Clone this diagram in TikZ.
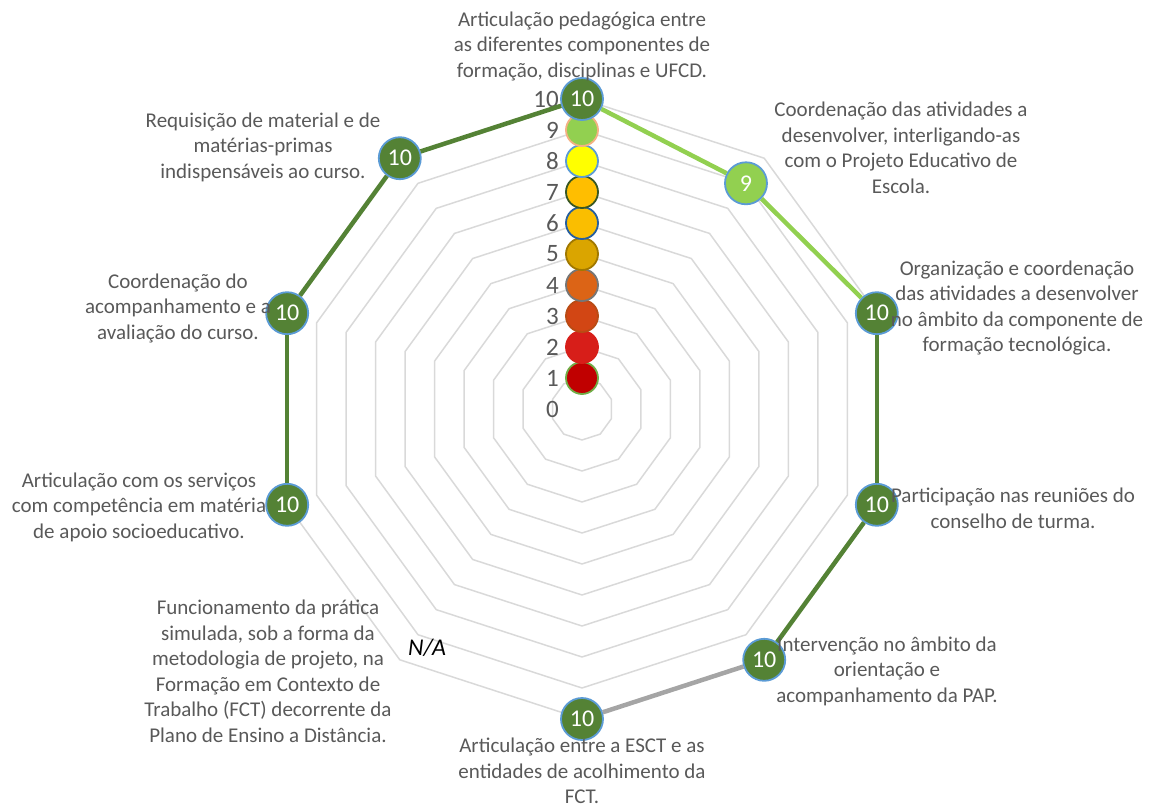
\documentclass[tikz,border=0pt]{standalone}
\usepackage{fontspec}
\setmainfont{Carlito}
\usepackage{tikz}
\usetikzlibrary{positioning}
\definecolor{gridgray}{RGB}{217,217,217}
\definecolor{txtgray}{RGB}{89,89,89}
\definecolor{darkgreen}{RGB}{84,130,53}
\definecolor{lightgreen}{RGB}{146,208,80}
\definecolor{seriesgray}{RGB}{165,165,165}
\definecolor{markerblue}{RGB}{91,155,213}
\definecolor{fillA}{RGB}{192,0,0}
\definecolor{drawA}{RGB}{112,173,71}
\definecolor{fillB}{RGB}{215,30,25}
\definecolor{fillC}{RGB}{210,70,20}
\definecolor{drawC}{RGB}{185,75,20}
\definecolor{fillD}{RGB}{220,100,22}
\definecolor{drawD}{RGB}{118,118,118}
\definecolor{fillE}{RGB}{218,165,0}
\definecolor{drawE}{RGB}{160,120,0}
\definecolor{fillF}{RGB}{250,190,0}
\definecolor{drawF}{RGB}{37,94,159}
\definecolor{fillG}{RGB}{255,190,0}
\definecolor{drawG}{RGB}{56,87,35}
\definecolor{fillH}{RGB}{255,255,0}
\definecolor{drawI}{RGB}{244,177,131}

\begin{document}
\begin{tikzpicture}[
        x=1pt, y=1pt,
        gridline/.style={draw=gridgray, line width=1.5pt, line join=round},
        tick/.style={anchor=east, inner sep=0pt, text=txtgray, font=\fontsize{25}{29}\selectfont},
        colmark/.style={circle, minimum size=32pt, inner sep=0pt, line width=1.8pt},
        datamark/.style={circle, minimum size=42pt, inner sep=0pt, fill=darkgreen, draw=markerblue, line width=1.8pt, text=white, font=\fontsize{24}{28}\selectfont},
        series/.style={line width=4.5pt},
        catlabel/.style={align=center, inner sep=0pt, text=txtgray, font=\fontsize{21}{25.5}\selectfont}
    ]
    \useasboundingbox (-582,-398) rectangle (573,409);

    \foreach \k in {1,...,10}
        \draw[gridline] (90:{\k*31}) \foreach \a in {54,18,...,-234} { -- (\a:{\k*31}) } -- cycle;

    \foreach \k in {0,...,10}
        \node[tick] (t\k) at (-23,{\k*31}) {\k};

    \foreach \k/\f/\d in {1/fillA/drawA, 2/fillB/fillB, 3/fillC/drawC, 4/fillD/drawD, 5/fillE/drawE, 6/fillF/drawF, 7/fillG/drawG, 8/fillH/markerblue, 9/lightgreen/drawI}
        \node[colmark, fill=\f, draw=\d] (m\k) at (0,{\k*31}) {};

    \node[datamark] (v0) at (90:310) {10};
    \node[datamark, fill=lightgreen] (v1) at (54:279) {9};
    \node[datamark] (v2) at (18:310) {10};
    \node[datamark] (v3) at (-18:310) {10};
    \node[datamark] (v4) at (-54:310) {10};
    \node[datamark] (v5) at (-90:310) {10};
    \node[datamark] (v7) at (-162:310) {10};
    \node[datamark] (v8) at (-198:310) {10};
    \node[datamark] (v9) at (-234:310) {10};

    \draw[series, lightgreen] (v0) -- (v1);
    \draw[series, lightgreen] (v1) -- (v2);
    \draw[series, darkgreen] (v2) -- (v3);
    \draw[series, darkgreen] (v3) -- (v4);
    \draw[series, seriesgray] (v4) -- (v5);
    \draw[series, darkgreen] (v7) -- (v8);
    \draw[series, darkgreen] (v8) -- (v9);
    \draw[series, darkgreen] (v9) -- (v0);

    \node[font=\fontsize{24}{28}\selectfont\itshape, inner sep=0pt] (na) at (-155,-239) {N/A};

    \node[catlabel] (cat0) at (0,363) {Articulação pedagógica entre\\as diferentes componentes de\\formação, disciplinas e UFCD.};
    \node[catlabel] (cat1) at (319,261) {Coordenação das atividades a\\desenvolver, interligando-as\\com o Projeto Educativo de\\Escola.};
    \node[catlabel] (cat2) at (435,101) {Organização e coordenação\\das atividades a desenvolver\\no âmbito da componente de\\formação tecnológica.};
    \node[catlabel] (cat3) at (431,-99.5) {Participação nas reuniões do\\conselho de turma.};
    \node[catlabel] (cat4) at (305,-262) {Intervenção no âmbito da\\orientação e\\acompanhamento da PAP.};
    \node[catlabel] (cat5) at (0,-362) {Articulação entre a ESCT e as\\entidades de acolhimento da\\FCT.};
    \node[catlabel] (cat6) at (-314,-262.5) {Funcionamento da prática\\simulada, sob a forma da\\metodologia de projeto, na\\Formação em Contexto de\\Trabalho (FCT) decorrente da\\Plano de Ensino a Distância.};
    \node[catlabel] (cat7) at (-443,-98) {Articulação com os serviços\\com competência em matéria\\de apoio socioeducativo.};
    \node[catlabel] (cat8) at (-404,101) {Coordenação do\\acompanhamento e a\\avaliação do curso.};
    \node[catlabel] (cat9) at (-319,262) {Requisição de material e de\\matérias-primas\\indispensáveis ao curso.};
\end{tikzpicture}
\end{document}
